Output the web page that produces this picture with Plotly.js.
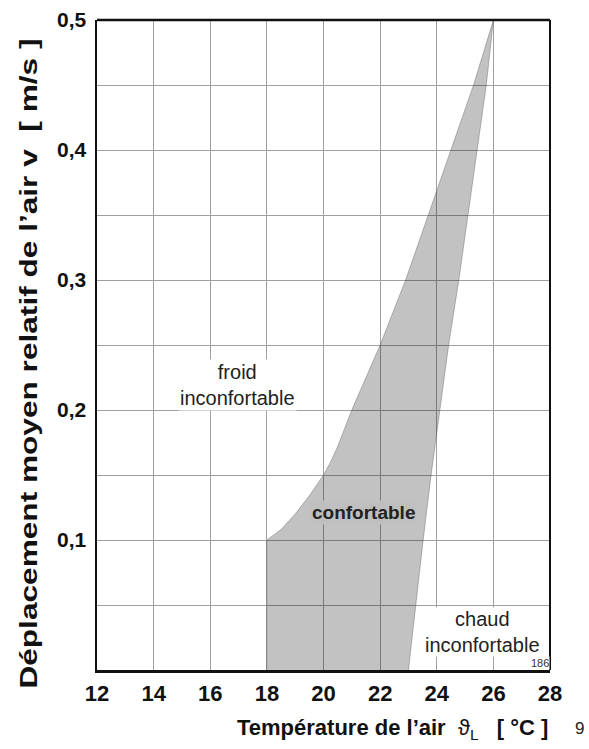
<!DOCTYPE html>
<html>
<head>
<meta charset="utf-8">
<script src="https://cdn.plot.ly/plotly-3.0.1.min.js"></script>
<style>html,body{margin:0;padding:0;background:#fff;}</style>
</head>
<body>
<div id="chart" style="width:589px;height:749px;"></div>
<script>
// Left (cold) boundary of the comfort zone: temperature [°C] vs air speed [m/s]
const leftTemp  = [18, 18, 18.5, 19.0, 19.5, 20.0, 20.25, 20.5, 20.75, 21.0, 21.5, 22.0, 22.45, 22.9, 23.3, 23.7, 24.1, 24.5, 24.9, 25.3, 25.65, 26.0];
const leftSpeed = [0, 0.10, 0.108, 0.12, 0.134, 0.15, 0.16, 0.172, 0.186, 0.20, 0.225, 0.25, 0.275, 0.30, 0.325, 0.35, 0.375, 0.40, 0.425, 0.45, 0.475, 0.50];
// Right (warm) boundary, from the apex down to the axis
const rightTemp  = [26.0, 25.75, 25.43, 25.1, 24.78, 24.42, 24.1, 23.8, 23.52, 23.25, 23.0];
const rightSpeed = [0.50, 0.45, 0.40, 0.35, 0.30, 0.25, 0.20, 0.15, 0.10, 0.05, 0];

const xTickVals = [12, 14, 16, 18, 20, 22, 24, 26, 28];
const xTickText = ['12', '14', '16', '18', '20', '22', '24', '26', '28'];
const yTickVals = [0, 0.05, 0.1, 0.15, 0.2, 0.25, 0.3, 0.35, 0.4, 0.45, 0.5];
const yTickText = ['', '', '0,1', '', '0,2', '', '0,3', '', '0,4', '', '0,5'];

const bold = s => s ? '<b>' + s + '</b>' : '';
const FONT = '"Liberation Sans", Arial, Helvetica, sans-serif';

const trace = {
  type: 'scatter', mode: 'lines',
  x: leftTemp.concat(rightTemp),
  y: leftSpeed.concat(rightSpeed),
  fill: 'toself',
  fillcolor: 'rgba(0,0,0,0.24)',
  line: {color: 'rgba(90,90,90,0.5)', width: 0.8},
  hoverinfo: 'skip', showlegend: false
};

const layout = {
  width: 589, height: 749,
  margin: {l: 97, r: 39, t: 20, b: 79},
  paper_bgcolor: '#fff', plot_bgcolor: '#fff',
  showlegend: false,
  font: {family: FONT, color: '#222'},
  xaxis: {
    range: [12, 28], tickvals: xTickVals, ticktext: xTickText.map(bold),
    showgrid: true, gridcolor: '#a0a0a0', gridwidth: 1,
    showline: true, linecolor: '#111', linewidth: 2.5, mirror: false,
    ticks: 'outside', ticklen: 2, tickcolor: 'rgba(0,0,0,0)',
    tickfont: {family: FONT, size: 22, color: '#111', weight: 'bold'},
    zeroline: false, fixedrange: true
  },
  yaxis: {
    range: [0, 0.5], tickvals: yTickVals, ticktext: yTickText.map(bold),
    showgrid: true, gridcolor: '#a0a0a0', gridwidth: 1,
    showline: true, linecolor: '#111', linewidth: 2.5, mirror: false,
    ticks: 'outside', ticklen: 4, tickcolor: 'rgba(0,0,0,0)',
    tickfont: {family: FONT, size: 21, color: '#111', weight: 'bold'},
    zeroline: false, fixedrange: true
  },
  shapes: [
    {type: 'line', xref: 'paper', yref: 'paper', x0: 0, x1: 1, y0: 1, y1: 1, line: {color: '#111', width: 2.5}},
    {type: 'line', xref: 'paper', yref: 'paper', x0: 1, x1: 1, y0: 0, y1: 1, line: {color: '#111', width: 2}}
  ],
  annotations: [
    {text: 'froid<br>inconfortable', x: 16.95, y: 0.219, xref: 'x', yref: 'y', showarrow: false,
     font: {family: FONT, size: 20, color: '#222'}, bgcolor: '#fff', borderpad: 1},
    {text: '<b>confortable</b>', x: 21.43, y: 0.1215, xref: 'x', yref: 'y', showarrow: false,
     font: {family: FONT, size: 19, color: '#222'}, bgcolor: '#bfbfbf', borderpad: 1},
    {text: 'chaud<br>inconfortable', x: 25.6, y: 0.029, xref: 'x', yref: 'y', showarrow: false,
     font: {family: FONT, size: 20, color: '#222'}, bgcolor: '#fff', borderpad: 0},
    {text: '186', x: 0.999, y: 0.0, xref: 'paper', yref: 'paper', xanchor: 'right', yanchor: 'bottom',
     showarrow: false, font: {family: FONT, size: 11, color: '#333'}, bgcolor: '#fff', borderpad: 0},
    {text: '<b>Température de l\u2019air</b>\u00A0\u00A0\u03D1<sub>L</sub>\u00A0\u00A0\u00A0<b>[ °C ]</b>',
     xref: 'paper', yref: 'paper', x: 1.0, y: -0.09, xanchor: 'right', yanchor: 'middle',
     showarrow: false, font: {family: FONT, size: 22, color: '#111'}},
    {text: '9', xref: 'paper', yref: 'paper', x: 1.066, y: -0.09, xanchor: 'center', yanchor: 'middle',
     showarrow: false, font: {family: FONT, size: 17, color: '#222'}},
    {text: 'Déplacement moyen relatif de l\u2019air v  [ m/s ]', textangle: -90,
     xref: 'paper', yref: 'paper', x: -0.152, y: 0.472, xanchor: 'center', yanchor: 'middle',
     showarrow: false, font: {family: FONT, size: 24, color: '#111', weight: 'bold'}}
  ]
};

Plotly.newPlot('chart', [trace], layout, {displayModeBar: false, staticPlot: true}).then(function () {
  // stretch the long vertical axis title to the length it has in the original figure
  const texts = document.querySelectorAll('.annotation-text');
  const yTitle = texts[texts.length - 1];
  if (yTitle) {
    yTitle.setAttribute('font-weight', 'bold');
    yTitle.style.fontWeight = 'bold';
    yTitle.setAttribute('textLength', '650');
    yTitle.setAttribute('lengthAdjust', 'spacingAndGlyphs');
  }
});
</script>
</body>
</html>
